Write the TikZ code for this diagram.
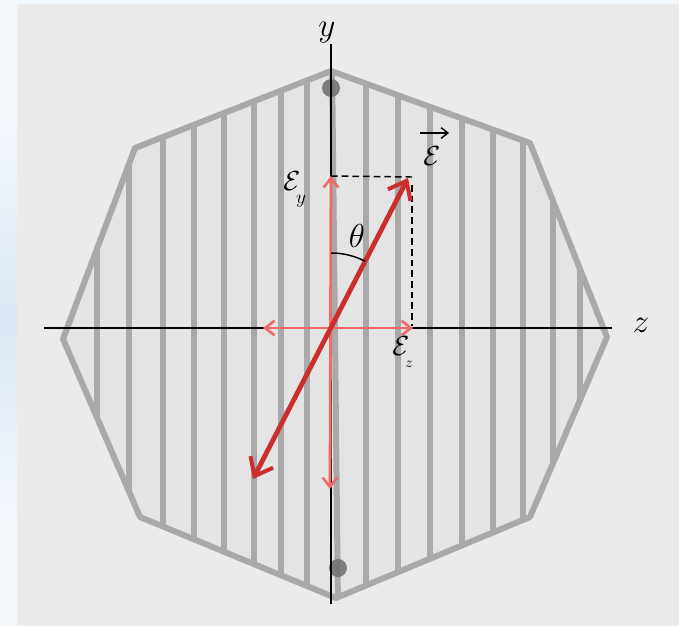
\documentclass[tikz,border=0pt]{standalone}
\usetikzlibrary{arrows.meta,calc}
\definecolor{panel}{HTML}{EBEBEB}
\definecolor{inner}{HTML}{E4E4E4}
\definecolor{stripe}{HTML}{A9A9A9}
\definecolor{dotc}{HTML}{727272}
\definecolor{lightred}{HTML}{F06A6A}
\definecolor{darkred}{HTML}{CC2E2E}
\definecolor{bluish}{HTML}{F3F8FD}
\definecolor{bluemid}{HTML}{DCE8F4}
\tikzset{
  stripeline/.style={stripe, line width=4.5pt},
  outline/.style={stripe, line width=4.5pt, line join=round},
  axis/.style={black, line width=1.4pt},
  comp/.style={lightred, line width=2.1pt, {Straight Barb[length=7pt,width=11pt,line width=2pt]}-{Straight Barb[length=7pt,width=11pt,line width=2pt]}},
  evec/.style={darkred, line width=3.6pt, {Straight Barb[length=12pt,width=19pt,line width=3pt]}-{Straight Barb[length=12pt,width=19pt,line width=3pt]}},
  helper/.style={black, line width=1.1pt, dash pattern=on 5pt off 3pt},
  lab/.style={inner sep=0pt, font=\fontsize{21}{23}\selectfont}
}
\begin{document}
\begin{tikzpicture}[x=0.75pt,y=-0.75pt]
\useasboundingbox (0,0) rectangle (679,626);
% background
\fill[bluish] (0,0) rectangle (679,626);
\shade[top color=bluish, bottom color=bluish, middle color=bluemid] (0,120) rectangle (17,520);
\fill[panel] (17,4) rectangle (679,626);
% octagon
\coordinate (T) at (331,71);
\coordinate (UR) at (530,143);
\coordinate (R) at (607,337);
\coordinate (LR) at (530,517);
\coordinate (B) at (336,598);
\coordinate (LL) at (140,517);
\coordinate (L) at (63,339);
\coordinate (UL) at (135,148);
\fill[inner] (T) -- (UR) -- (R) -- (LR) -- (B) -- (LL) -- (L) -- (UL) -- cycle;
\begin{scope}
  \clip (T) -- (UR) -- (R) -- (LR) -- (B) -- (LL) -- (L) -- (UL) -- cycle;
  \foreach \sx in {97,129,163,194,224,254,281,307,366,398,430,462,493,523,553,580}
    \draw[stripeline] (\sx,60) -- (\sx,610);
  \draw[stripeline] (332,60) -- (338,610);
\end{scope}
\draw[outline] (T) -- (UR) -- (R) -- (LR) -- (B) -- (LL) -- (L) -- (UL) -- cycle;
% dots
\fill[dotc, opacity=0.9] (331,88) circle (9);
\fill[dotc, opacity=0.9] (338,568) circle (9);
% axes
\coordinate (ytop) at (331,44);
\coordinate (ybot) at (331,604);
\coordinate (zl) at (44,328);
\coordinate (zr) at (612,328);
\draw[axis] (ytop) -- (ybot);
\draw[axis] (zl) -- (zr);
\node[lab, font=\fontsize{24}{26}\selectfont] (ylab) at (327,33) {$y$};
\node[lab, font=\fontsize{26}{28}\selectfont] (zlab) at (641,325) {$z$};
% dashed helpers
\coordinate (O) at (331,328);
\coordinate (Eyt) at (331,176);
\coordinate (Eyb) at (330,489);
\coordinate (Ezl) at (263,328);
\coordinate (Ezr) at (413,328);
\coordinate (Et) at (408,178);
\coordinate (Eb) at (253,479);
\coordinate (D) at (412,177);
\coordinate (Dz) at (412,326);
\draw[helper] (Eyt) -- (D);
\draw[helper] ([yshift=-6pt]D) -- (Dz);
% components
\draw[comp] (Eyb) -- (Eyt);
\draw[comp] (Ezl) -- (Ezr);
% E vector
\draw[evec] (Eb) -- (Et);
% angle
\draw[black, line width=1.1pt] plot[domain=-90:-63, samples=20] ({331+75*cos(\x)},{328+75*sin(\x)});
\node[lab, font=\fontsize{23}{25}\selectfont] (th) at (357,236) {$\theta$};
% labels
\node[lab] (Ey) at (292,181) {$\mathcal{E}$};
\node[lab, font=\fontsize{14}{15}\selectfont] (Eysub) at (301,201) {$y$};
\node[lab] (Ez) at (401,346) {$\mathcal{E}$};
\node[lab, font=\fontsize{11}{12}\selectfont] (Ezsub) at (409,364) {$z$};
\node[lab] (Ev) at (432,156) {$\mathcal{E}$};
\coordinate (va) at (420,133);
\coordinate (vb) at (449,133);
\draw[black, line width=1.1pt, -{Straight Barb[length=5pt,width=8pt]}] (va) -- (vb);
\end{tikzpicture}
\end{document}
